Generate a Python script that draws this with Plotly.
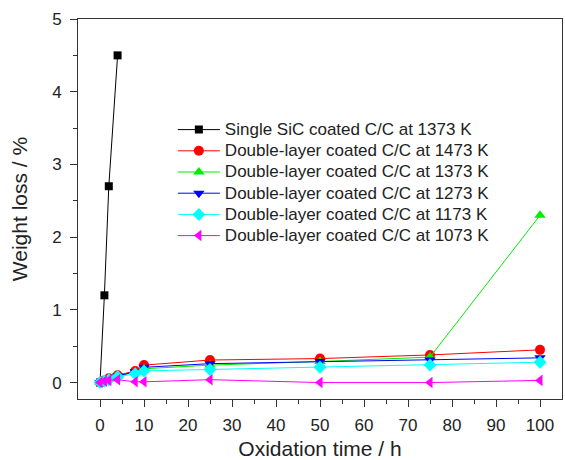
import plotly.graph_objects as go

# Oxidation times (h)
t_single = [0, 1, 2, 4]
t_double = [0, 1, 2, 4, 8, 10, 25, 50, 75, 100]

# Weight loss (%)
single_1373 = [0, 1.2, 2.7, 4.5]
double_1473 = [0, 0.03, 0.06, 0.10, 0.16, 0.24, 0.31, 0.33, 0.38, 0.45]
double_1373 = [0, 0.03, 0.05, 0.09, 0.14, 0.19, 0.24, 0.29, 0.35, 2.30]
double_1273 = [0, 0.02, 0.05, 0.09, 0.15, 0.21, 0.26, 0.29, 0.31, 0.34]
double_1173 = [0, 0.02, 0.04, 0.08, 0.12, 0.16, 0.18, 0.21, 0.24, 0.28]
double_1073 = [0, 0.02, 0.03, 0.04, 0.01, 0.01, 0.04, 0.0, 0.0, 0.03]

series = [
    ("Single SiC coated C/C at 1373 K", t_single, single_1373, "#000000", "square", 8),
    ("Double-layer coated C/C at 1473 K", t_double, double_1473, "#ff0000", "circle", 10),
    ("Double-layer coated C/C at 1373 K", t_double, double_1373, "#00ee00", "triangle-up", 10),
    ("Double-layer coated C/C at 1273 K", t_double, double_1273, "#0000ff", "triangle-down", 10),
    ("Double-layer coated C/C at 1173 K", t_double, double_1173, "#00ffff", "diamond", 10),
    ("Double-layer coated C/C at 1073 K", t_double, double_1073, "#ff00ff", "triangle-left", 10),
]

fig = go.Figure()
for name, x, y, color, symbol, size in series:
    fig.add_trace(go.Scatter(
        x=x, y=y, mode="lines+markers",
        # larger label text while keeping the compact legend row pitch
        name=f'<span style="font-size:17px">{name}</span>',
        line=dict(color=color, width=1),
        marker=dict(symbol=symbol, size=size, color=color, line=dict(width=0)),
    ))

text_color = "#222222"
axis_color = "#333333"
base_font = dict(family="Liberation Sans, Arial, sans-serif", size=17, color=text_color)

fig.update_layout(
    width=565, height=460,
    margin=dict(l=78, r=2, t=19, b=58),
    paper_bgcolor="white", plot_bgcolor="white",
    font=base_font,
    showlegend=True,
    legend=dict(
        x=0.196, y=0.75, xanchor="left", yanchor="top",
        bgcolor="rgba(0,0,0,0)", font=dict(size=14, color=text_color),
        tracegroupgap=0, itemwidth=42,
    ),
    xaxis=dict(
        range=[-5, 105], tickmode="array",
        tickvals=list(range(0, 101, 10)),
        ticks="outside", ticklen=7, tickwidth=1, tickcolor=axis_color,
        ticklabelstandoff=4,
        minor=dict(tickvals=list(range(5, 101, 10)), ticks="outside", ticklen=4, tickcolor=axis_color),
        showline=True, linecolor=axis_color, linewidth=1, mirror=True,
        showgrid=False, zeroline=False,
        title=dict(text="Oxidation time / h", font=dict(size=21), standoff=8),
    ),
    yaxis=dict(
        range=[-0.226, 5], tickmode="array",
        tickvals=[0, 1, 2, 3, 4, 5],
        ticks="outside", ticklen=7, tickwidth=1, tickcolor=axis_color,
        ticklabelstandoff=5,
        minor=dict(tickvals=[0.5, 1.5, 2.5, 3.5, 4.5], ticks="outside", ticklen=4, tickcolor=axis_color),
        showline=True, linecolor=axis_color, linewidth=1, mirror=True,
        showgrid=False, zeroline=False,
        title=dict(text="Weight loss / %", font=dict(size=21), standoff=18),
    ),
)

fig.write_html("out.html")
